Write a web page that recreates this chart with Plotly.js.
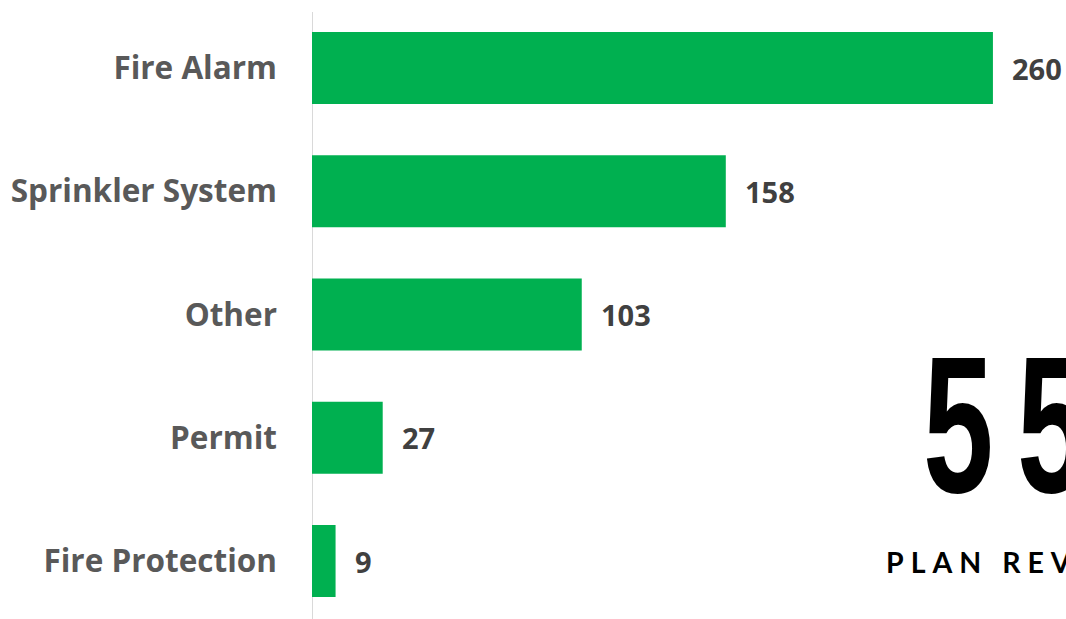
<!DOCTYPE html>
<html>
<head>
<meta charset="utf-8">
<script src="https://cdn.plot.ly/plotly-3.0.1.min.js"></script>
<style>
html,body{margin:0;padding:0;background:#fff;overflow:hidden;}
#chart{width:1066px;height:619px;}
</style>
</head>
<body>
<div id="chart"></div>
<script>
const categories = ["Fire Alarm", "Sprinkler System", "Other", "Permit", "Fire Protection"];
const values = [260, 158, 103, 27, 9];
const totalLabel = "557";
const subLabel = "PLAN REVIEWS";

const W = 1066, H = 619, L = 312;
const pw = W - L;

const trace = {
  type: "bar",
  orientation: "h",
  y: categories,
  x: values,
  marker: {color: "#00B050"},
  hoverinfo: "none",
  cliponaxis: false
};

const valueAnns = categories.map((c, i) => ({
  x: values[i], y: c, xref: "x", yref: "y",
  text: String(values[i]),
  showarrow: false, xanchor: "left", yanchor: "middle",
  xshift: 17,
  font: {family: "Open Sans", size: 29, color: "#404040", weight: "bold"}
}));

const bigAnn = {
  xref: "paper", yref: "paper",
  x: (921 - L) / pw, y: 1 - 424 / H,
  xanchor: "left", yanchor: "middle",
  showarrow: false,
  text: '<span style="letter-spacing:36px">' + totalLabel + '</span>',
  font: {family: "Liberation Sans", size: 195, color: "#000000", weight: "bold"}
};

const subAnn = {
  xref: "paper", yref: "paper",
  x: (884 - L) / pw, y: 1 - 562 / H,
  xanchor: "left", yanchor: "middle",
  showarrow: false,
  text: '<span style="letter-spacing:7px">' + subLabel + '</span>',
  font: {family: "Lato", size: 28.5, color: "#000000", weight: "bold"}
};

const layout = {
  width: W, height: H,
  margin: {l: L, r: 0, t: 0, b: 0, pad: 0},
  paper_bgcolor: "#ffffff",
  plot_bgcolor: "rgba(0,0,0,0)",
  showlegend: false,
  bargap: 0.416,
  xaxis: {range: [0, 287.9], visible: false, fixedrange: true},
  yaxis: {
    type: "category",
    categoryorder: "array",
    categoryarray: categories,
    range: [4.4706, -0.5517],
    showline: false, showgrid: false, zeroline: false,
    ticks: "",
    ticklabelstandoff: 34,
    tickfont: {family: "Open Sans", size: 31.5, color: "#595959", weight: "bold"},
    fixedrange: true
  },
  shapes: [{
    type: "line", layer: "below",
    xref: "x", yref: "paper",
    x0: 0, x1: 0, y0: 0, y1: 1 - 12 / H,
    line: {color: "#D9D9D9", width: 2}
  }],
  annotations: valueAnns.concat([bigAnn, subAnn])
};

Plotly.newPlot("chart", [trace], layout, {staticPlot: true, displayModeBar: false}).then(() => {
  // condense the big total number horizontally
  const texts = document.querySelectorAll("#chart .annotation-text");
  texts.forEach(t => {
    if (t.textContent === totalLabel) {
      const bb = t.getBBox();
      const x0 = bb.x;
      t.setAttribute("transform", `translate(${x0},0) scale(0.65,1) translate(${-x0},0)`);
    }
  });
});
</script>
</body>
</html>
